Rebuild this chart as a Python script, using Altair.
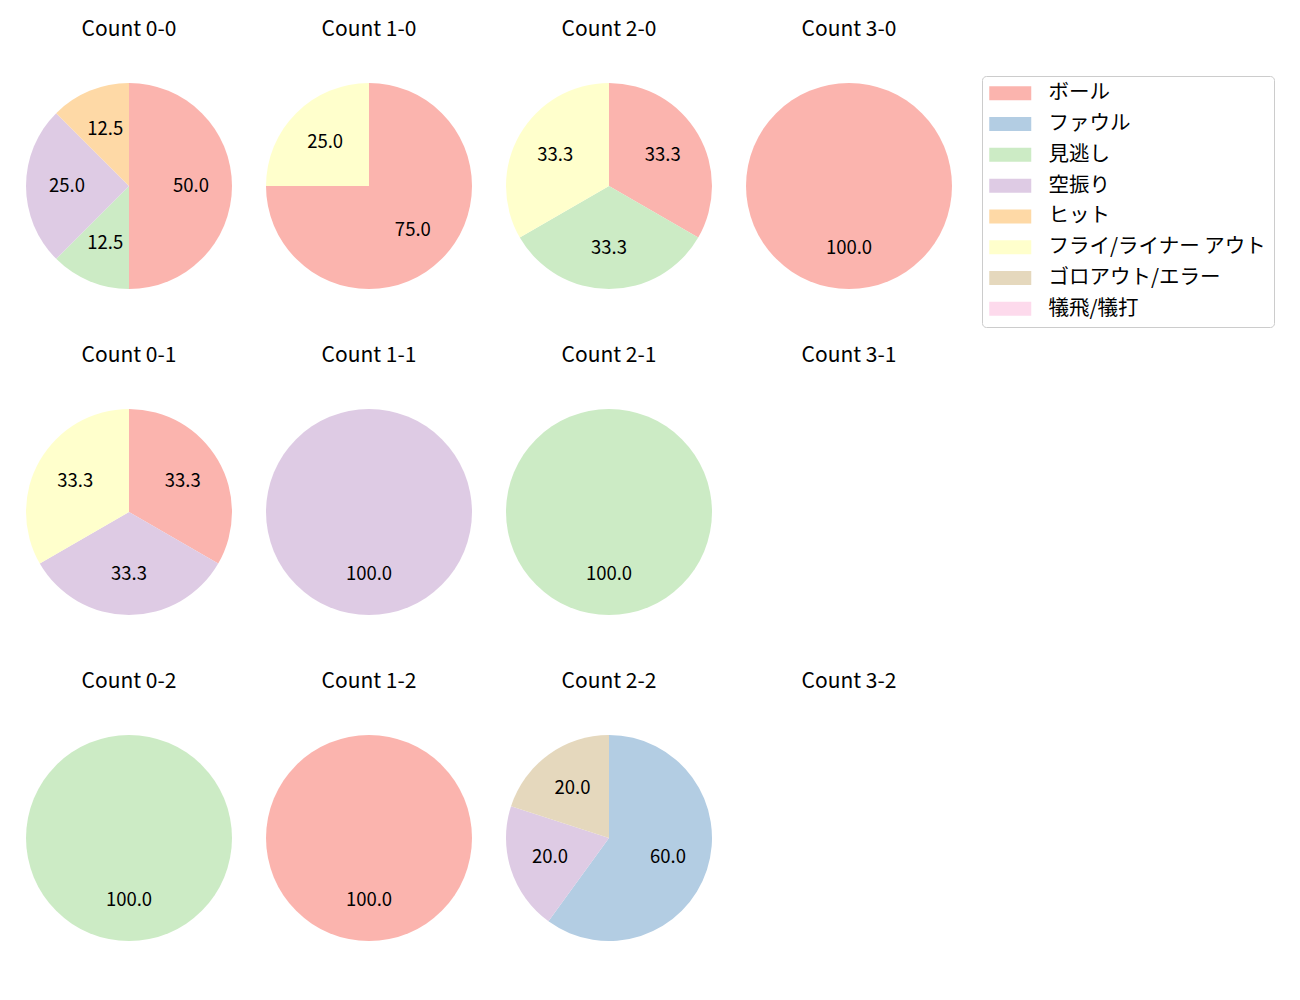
import altair as alt
import pandas as pd

FONT = "Noto Sans CJK JP"

categories = ["ボール", "ファウル", "見逃し", "空振り", "ヒット",
              "フライ/ライナー アウト", "ゴロアウト/エラー", "犠飛/犠打"]
colors = ["#fbb4ae", "#b3cde3", "#ccebc5", "#decbe4", "#fed9a6",
          "#ffffcc", "#e5d8bd", "#fddaec"]

panels = ["0-0", "1-0", "2-0", "3-0",
          "0-1", "1-1", "2-1", "3-1",
          "0-2", "1-2", "2-2", "3-2"]

# counts per category (same order as categories)
count_0_0 = [4, 0, 1, 2, 1, 0, 0, 0]
count_1_0 = [3, 0, 0, 0, 0, 1, 0, 0]
count_2_0 = [1, 0, 1, 0, 0, 1, 0, 0]
count_3_0 = [1, 0, 0, 0, 0, 0, 0, 0]
count_0_1 = [1, 0, 0, 1, 0, 1, 0, 0]
count_1_1 = [0, 0, 0, 1, 0, 0, 0, 0]
count_2_1 = [0, 0, 1, 0, 0, 0, 0, 0]
count_3_1 = [0, 0, 0, 0, 0, 0, 0, 0]
count_0_2 = [0, 0, 1, 0, 0, 0, 0, 0]
count_1_2 = [1, 0, 0, 0, 0, 0, 0, 0]
count_2_2 = [0, 3, 0, 1, 0, 0, 1, 0]
count_3_2 = [0, 0, 0, 0, 0, 0, 0, 0]

counts = {
    "0-0": count_0_0, "1-0": count_1_0, "2-0": count_2_0, "3-0": count_3_0,
    "0-1": count_0_1, "1-1": count_1_1, "2-1": count_2_1, "3-1": count_3_1,
    "0-2": count_0_2, "1-2": count_1_2, "2-2": count_2_2, "3-2": count_3_2,
}

rows = []
for p in panels:
    vals = counts[p]
    tot = sum(vals)
    for i, (c, v) in enumerate(zip(categories, vals)):
        if v > 0:
            rows.append({"panel": p, "cat": c, "idx": i, "value": v,
                         "label": f"{100.0 * v / tot:.1f}"})
df = pd.DataFrame(rows, columns=["panel", "cat", "idx", "value", "label"])

W = 206
color_scale = alt.Scale(domain=categories, range=colors)


def panel_chart(p):
    base = alt.Chart(df).transform_filter(alt.datum.panel == p)
    arc = base.mark_arc(strokeWidth=0).encode(
        theta=alt.Theta("value:Q", stack="normalize"),
        color=alt.Color("cat:N", scale=color_scale, title=None),
        order=alt.Order("idx:Q"),
    )
    txt = base.mark_text(radius=62, fontSize=18.5, font=FONT, color="black").encode(
        theta=alt.Theta("value:Q", stack="normalize"),
        text="label:N",
        order=alt.Order("idx:Q"),
    )
    return alt.layer(arc, txt).properties(
        width=W, height=W,
        title=alt.TitleParams(f"Count {p}", fontSize=21, font=FONT,
                              fontWeight="normal", anchor="middle", offset=43),
    )


grid_rows = []
for r in range(3):
    grid_rows.append(alt.hconcat(*[panel_chart(p) for p in panels[r * 4:(r + 1) * 4]],
                                 spacing=34))

chart = alt.vconcat(*grid_rows, spacing=56).properties(
    padding={"left": 26, "top": 19, "right": 10, "bottom": 10},
).configure_view(stroke=None).configure_legend(
    orient="none", legendX=956, legendY=-7,
    strokeColor="#cccccc", cornerRadius=4, fillColor="white",
    padding=7, labelFont=FONT, labelFontSize=20.5, labelColor="black",
    symbolType="M-1,-0.7H3.2V0.7H-1Z", symbolSize=400, symbolStrokeWidth=0,
    labelOffset=39, rowPadding=9.8, labelLimit=400,
)

chart.save("out.html", embed_options={"renderer": "svg", "actions": False})
